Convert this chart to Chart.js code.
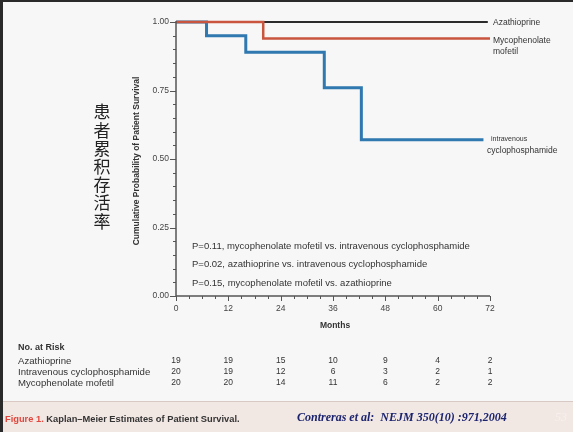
<!DOCTYPE html>
<html>
<head>
<meta charset="utf-8">
<script src="https://cdn.jsdelivr.net/npm/chart.js@4.4.0/dist/chart.umd.min.js"></script>
<style>
  html, body { margin: 0; padding: 0; background: #f7f7f7; }
  #wrap { position: relative; width: 573px; height: 432px; overflow: hidden; }
  canvas { display: block; }
</style>
</head>
<body>
<div id="wrap"><canvas id="km" width="573" height="432"></canvas></div>
<script>
// Kaplan–Meier survival by treatment group
const monthTicks = [0, 12, 24, 36, 48, 60, 72];

const azaMonths   = [0, 71.5];
const azaSurvival = [1.00, 1.00];

const mmfMonths   = [0, 20, 72];
const mmfSurvival = [1.00, 0.94, 0.94];

const cycMonths   = [0, 7, 16, 34, 42.5, 70.5];
const cycSurvival = [1.00, 0.95, 0.89, 0.76, 0.57, 0.57];

// Number at risk at each 12-month tick
const riskGroups = ['Azathioprine', 'Intravenous cyclophosphamide', 'Mycophenolate mofetil'];
const riskAza = [19, 19, 15, 10, 9, 4, 2];
const riskCyc = [20, 19, 12, 6, 3, 2, 1];
const riskMmf = [20, 20, 14, 11, 6, 2, 2];

const pValueNotes = [
  'P=0.11, mycophenolate mofetil vs. intravenous cyclophosphamide',
  'P=0.02, azathioprine vs. intravenous cyclophosphamide',
  'P=0.15, mycophenolate mofetil vs. azathioprine'
];

const SANS = '"Liberation Sans", Arial, sans-serif';
const toPoints = (xs, ys) => xs.map((m, i) => ({ x: m, y: ys[i] }));

const slideBackground = {
  id: 'slideBackground',
  beforeDraw(chart) {
    const ctx = chart.ctx;
    ctx.save();
    ctx.fillStyle = '#f7f7f7';
    ctx.fillRect(0, 0, chart.width, chart.height);
    // caption band
    ctx.fillStyle = '#f1e7e3';
    ctx.fillRect(0, 402, chart.width, chart.height - 402);
    ctx.fillStyle = '#d9c9c4';
    ctx.fillRect(0, 401, chart.width, 1);
    // frame
    ctx.fillStyle = '#2a2a2a';
    ctx.fillRect(0, 0, 3, chart.height);
    ctx.fillRect(0, 0, chart.width, 2);
    ctx.restore();
  }
};

const annotations = {
  id: 'annotations',
  afterDraw(chart) {
    const ctx = chart.ctx;
    const xs = chart.scales.x, ys = chart.scales.y;
    const a = chart.chartArea;
    ctx.save();

    // axes with major / minor ticks
    ctx.strokeStyle = '#555';
    ctx.lineWidth = 1.5;
    ctx.beginPath();
    ctx.moveTo(a.left, a.top - 1);
    ctx.lineTo(a.left, a.bottom);
    ctx.lineTo(a.right, a.bottom);
    ctx.stroke();
    ctx.lineWidth = 1;
    ctx.beginPath();
    for (let v = 0; v <= 100; v += 5) {
      const y = Math.round(ys.getPixelForValue(v / 100)) + 0.5;
      const len = v % 25 === 0 ? 6 : 3;
      ctx.moveTo(a.left - len, y);
      ctx.lineTo(a.left, y);
    }
    for (let m = 0; m <= 72; m += 3) {
      const x = Math.round(xs.getPixelForValue(m)) + 0.5;
      const len = m % 12 === 0 ? 5 : 3;
      ctx.moveTo(x, a.bottom);
      ctx.lineTo(x, a.bottom + len);
    }
    ctx.stroke();

    ctx.fillStyle = '#333';
    ctx.textBaseline = 'middle';

    // y-axis title
    ctx.save();
    ctx.translate(137, 161);
    ctx.rotate(-Math.PI / 2);
    ctx.textAlign = 'center';
    ctx.font = 'bold 8.5px ' + SANS;
    ctx.fillText('Cumulative Probability of Patient Survival', 0, 0);
    ctx.restore();

    // Chinese vertical caption
    ctx.save();
    ctx.font = '17px "Noto Sans CJK SC"';
    ctx.textAlign = 'center';
    ctx.fillStyle = '#222';
    const zh = '患者累积存活率';
    for (let i = 0; i < zh.length; i++) {
      ctx.fillText(zh[i], 102, 112 + i * 18.2);
    }
    ctx.restore();

    // x-axis title
    ctx.textAlign = 'center';
    ctx.font = 'bold 8.5px ' + SANS;
    ctx.fillText('Months', xs.getPixelForValue(36) + 2, 326);

    // series labels at line ends
    ctx.textAlign = 'left';
    ctx.font = '8.5px ' + SANS;
    ctx.fillText('Azathioprine', 493, 23);
    ctx.fillText('Mycophenolate', 493, 41);
    ctx.fillText('mofetil', 493, 52);
    ctx.font = '7px ' + SANS;
    ctx.fillText('intravenous', 491, 139);
    ctx.font = '8.5px ' + SANS;
    ctx.fillText('cyclophosphamide', 487, 151);

    // P values
    ctx.font = '9.5px ' + SANS;
    pValueNotes.forEach((t, i) => ctx.fillText(t, 192, 246 + i * 18.5));

    // number at risk table
    ctx.font = 'bold 9px ' + SANS;
    ctx.fillText('No. at Risk', 18, 348);
    const rows = [riskAza, riskCyc, riskMmf];
    rows.forEach((row, r) => {
      const y = 361 + r * 11;
      ctx.textAlign = 'left';
      ctx.font = '9.6px ' + SANS;
      ctx.fillText(riskGroups[r], 18, y);
      ctx.textAlign = 'center';
      ctx.font = '8.5px ' + SANS;
      row.forEach((n, i) => ctx.fillText(String(n), xs.getPixelForValue(monthTicks[i]), y));
    });

    // figure caption
    ctx.textAlign = 'left';
    ctx.font = 'bold 9.3px ' + SANS;
    ctx.fillStyle = '#e2463c';
    ctx.fillText('Figure 1.', 5, 419);
    const w = ctx.measureText('Figure 1. ').width;
    ctx.fillStyle = '#333';
    ctx.fillText('Kaplan\u2013Meier Estimates of Patient Survival.', 5 + w, 419);

    ctx.font = 'italic bold 12px "Liberation Serif", "Times New Roman", serif';
    ctx.fillStyle = '#1c2470';
    ctx.fillText('Contreras et al:  NEJM 350(10) :971,2004', 297, 418);
    ctx.fillStyle = '#f8f0ee';
    ctx.font = 'italic 12px "Liberation Serif", serif';
    ctx.textAlign = 'center';
    ctx.fillText('53', 561, 418);

    ctx.restore();
  }
};

new Chart(document.getElementById('km'), {
  type: 'line',
  data: {
    datasets: [
      { label: 'Mycophenolate mofetil', data: toPoints(mmfMonths, mmfSurvival),
        borderColor: '#c9553f', borderWidth: 2.5 },
      { label: 'Azathioprine', data: toPoints(azaMonths, azaSurvival),
        borderColor: '#2b2b2b', borderWidth: 2 },
      { label: 'Intravenous cyclophosphamide', data: toPoints(cycMonths, cycSurvival),
        borderColor: '#2f78b0', borderWidth: 3 }
    ].map(d => Object.assign(d, { stepped: true, pointRadius: 0, fill: false, clip: false, tension: 0 }))
  },
  options: {
    responsive: false,
    animation: false,
    devicePixelRatio: 1,
    layout: { padding: { top: 22, right: 83, left: 0, bottom: 0 } },
    plugins: { legend: { display: false }, tooltip: { enabled: false } },
    scales: {
      x: {
        type: 'linear', min: 0, max: 72,
        afterFit: s => { s.height = 136; },
        grid: { display: false, drawTicks: false },
        border: { display: false },
        ticks: {
          stepSize: 3, autoSkip: false, maxRotation: 0, padding: 8,
          color: '#444', font: { size: 8.5, family: SANS },
          callback: v => (v % 12 === 0 ? String(v) : '')
        }
      },
      y: {
        type: 'linear', min: 0, max: 1,
        afterFit: s => { s.width = 176; },
        grid: { display: false, drawTicks: false },
        border: { display: false },
        ticks: {
          stepSize: 0.05, autoSkip: false, padding: 7,
          color: '#444', font: { size: 8.5, family: SANS },
          callback: v => (Math.abs(v * 4 - Math.round(v * 4)) < 1e-6 ? v.toFixed(2) : '')
        }
      }
    }
  },
  plugins: [slideBackground, annotations]
});
</script>
</body>
</html>
